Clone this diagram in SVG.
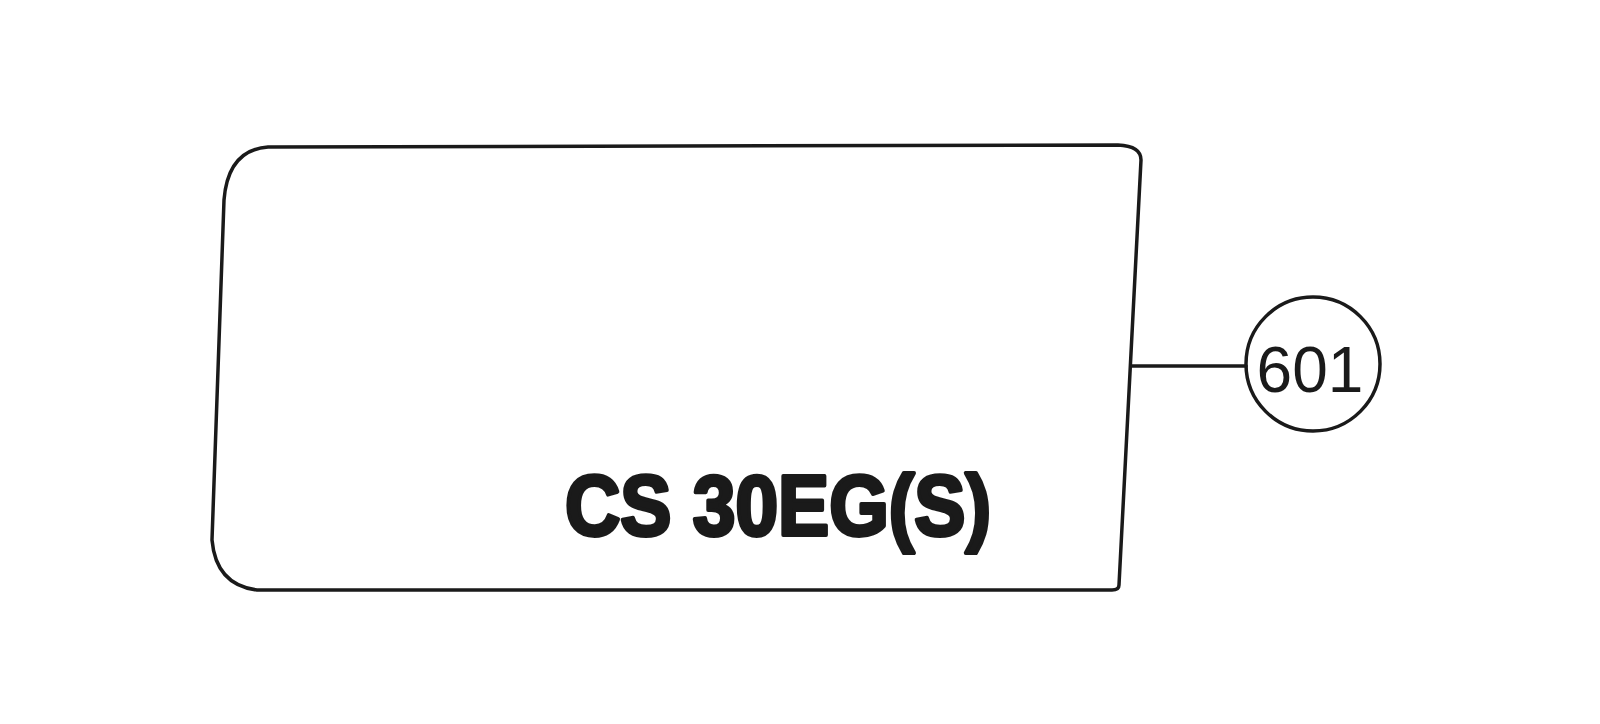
<svg xmlns="http://www.w3.org/2000/svg" width="1600" height="724" viewBox="0 0 1600 724">
<style>
.ln{fill:none;stroke:#1a1a1a;stroke-width:3.5;stroke-linejoin:round;stroke-linecap:round}
.num{font-family:"Liberation Sans",Arial,sans-serif;font-size:64px;fill:#1a1a1a}
.big{font-family:"Liberation Sans",Arial,sans-serif;font-size:86px;font-weight:bold;fill:#1a1a1a;stroke:#1a1a1a;stroke-width:4;stroke-linejoin:round}
</style>
<rect width="1600" height="724" fill="#fff"/>
<g id="label">
<path class="ln" d="M268,147 L1118,145 Q1141,146 1141,160 L1119,585 Q1119,590 1112,590 L257,590 Q216,585 212,540 L224,200 Q228,150 268,147 Z"/>
<text class="big" x="565" y="535" textLength="426" lengthAdjust="spacingAndGlyphs">CS 30EG(S)</text>
</g>
<g id="connectors">
<line class="ln" x1="1132" y1="366" x2="1246" y2="366"/>
</g>
<g id="callout-601">
<circle class="ln" cx="1313" cy="364" r="67"/>
<text class="num" x="1310" y="392" text-anchor="middle">601</text>
</g>
</svg>
